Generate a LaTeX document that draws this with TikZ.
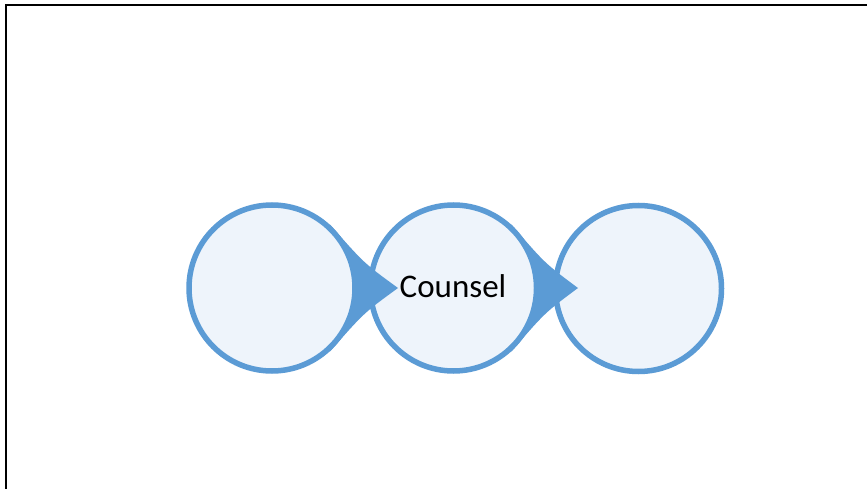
\documentclass[tikz,border=0pt]{standalone}
\usepackage{fontspec}
\setmainfont{Carlito}
\usetikzlibrary{calc}
\definecolor{accent}{HTML}{5B9BD5}
\definecolor{lightfill}{HTML}{EEF4FB}
\tikzset{
  bubble/.style={circle, draw=accent, fill=lightfill, line width=5.5pt, minimum size=166pt, inner sep=0pt},
  pointer/.style={fill=accent},
  frameline/.style={draw=black, line width=2.6pt}
}
\begin{document}
\begin{tikzpicture}[x=1pt,y=1pt]
\useasboundingbox (0,0) rectangle (867,488);
\fill[white] (0,0) rectangle (867,488);
% frame (only top and left visible)
\coordinate (fbl) at (6,-5);
\coordinate (ftl) at (6,483);
\coordinate (ftr) at (872,483);
\draw[frameline] (fbl) -- (ftl) -- (ftr);
% third circle
\node[bubble] (c3) at (638.5,199.5) {};
% second circle with pointer
\coordinate (m2) at (453.5,200);
\coordinate (t2) at (578,200);
\coordinate (u2) at ($(m2)+(47.6:86)$);
\coordinate (d2) at ($(m2)+(-47.6:86)$);
\fill[pointer] (t2) .. controls ($(u2)!0.5!(t2)+(0,-7)$) .. (u2) -- (m2) -- (d2) .. controls ($(d2)!0.5!(t2)+(0,7)$) .. (t2) -- cycle;
\node[bubble] (c2) at (m2) {};
\node[font=\fontsize{33}{39}\selectfont, text=black] (lbl) at (453,202) {Counsel};
% first circle with pointer
\coordinate (m1) at (272,200);
\coordinate (t1) at (398,200);
\coordinate (u1) at ($(m1)+(47.6:86)$);
\coordinate (d1) at ($(m1)+(-47.6:86)$);
\fill[pointer] (t1) .. controls ($(u1)!0.5!(t1)+(0,-7)$) .. (u1) -- (m1) -- (d1) .. controls ($(d1)!0.5!(t1)+(0,7)$) .. (t1) -- cycle;
\node[bubble] (c1) at (m1) {};
\end{tikzpicture}
\end{document}
